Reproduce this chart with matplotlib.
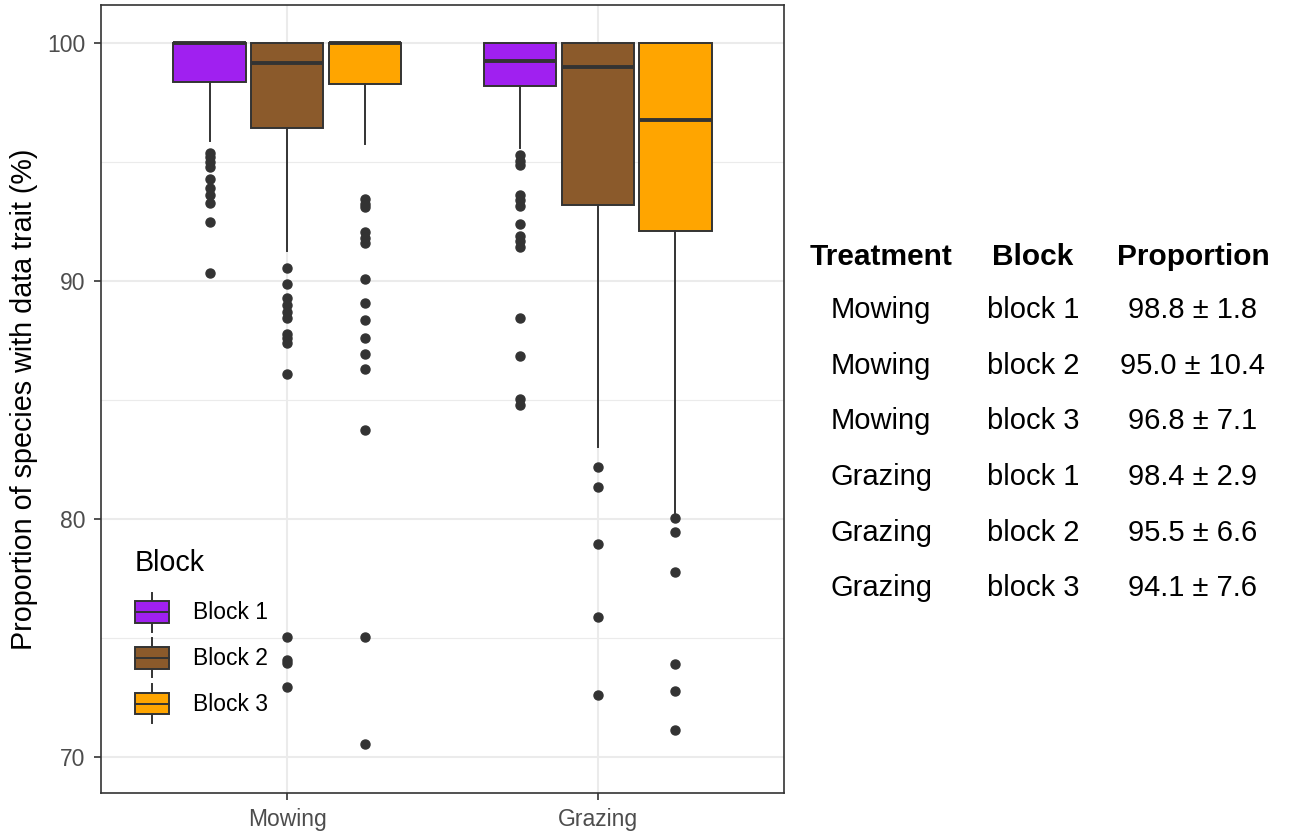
import matplotlib
matplotlib.use("Agg")
import matplotlib.pyplot as plt
from matplotlib.legend_handler import HandlerBase
from matplotlib.patches import Rectangle, Patch
from matplotlib.lines import Line2D

plt.rcParams['font.family'] = ['Liberation Sans', 'DejaVu Sans']

treatments = ['Mowing', 'Grazing']
blocks = ['Block 1', 'Block 2', 'Block 3']
block_colors = ['#A020F0', '#8B5A2B', '#FFA500']

# box statistics, order: Mowing b1-b3, Grazing b1-b3
box_q1 = [98.35, 96.45, 98.3, 98.2, 93.2, 92.1]
box_med = [100.0, 99.15, 100.0, 99.25, 99.0, 96.75]
box_q3 = [100.0, 100.0, 100.0, 100.0, 100.0, 100.0]
box_lo = [95.9, 91.25, 95.75, 95.6, 83.05, 80.25]
box_hi = [100.0, 100.0, 100.0, 100.0, 100.0, 100.0]
box_fliers = [
    [95.4, 95.2, 95.0, 94.8, 94.3, 93.9, 93.6, 93.3, 92.5, 90.35],
    [90.55, 89.9, 89.3, 89.0, 88.7, 88.45, 87.8, 87.6, 87.4, 86.1,
     75.05, 74.1, 73.95, 72.95],
    [93.45, 93.25, 93.1, 92.05, 91.8, 91.6, 90.1, 89.1, 88.35, 87.6,
     86.95, 86.3, 83.75, 75.05, 70.55],
    [95.3, 95.05, 94.9, 93.6, 93.4, 93.15, 92.4, 91.9, 91.7, 91.45,
     88.45, 86.85, 85.05, 84.8],
    [82.2, 81.35, 78.95, 75.9, 72.6],
    [80.05, 79.45, 77.8, 73.9, 72.8, 71.15],
]

# summary table
table_treatment = ['Mowing', 'Mowing', 'Mowing', 'Grazing', 'Grazing', 'Grazing']
table_block = ['block 1', 'block 2', 'block 3', 'block 1', 'block 2', 'block 3']
table_mean = [98.8, 95.0, 96.8, 98.4, 95.5, 94.1]
table_sd = [1.8, 10.4, 7.1, 2.9, 6.6, 7.6]

dark = '#333333'

fig = plt.figure(figsize=(12.91, 8.34), dpi=100)
ax = fig.add_axes([101 / 1291, 1 - 793 / 834, 683 / 1291, 788 / 834])

stats = []
positions = []
for i in range(len(box_q1)):
    stats.append({'q1': box_q1[i], 'med': box_med[i], 'q3': box_q3[i],
                  'whislo': box_lo[i], 'whishi': box_hi[i],
                  'fliers': box_fliers[i]})
    positions.append(1 + i // 3 + (i % 3 - 1) * 0.25)

res = ax.bxp(stats, positions=positions, widths=0.233, patch_artist=True,
             showcaps=False, manage_ticks=False,
             boxprops=dict(edgecolor=dark, linewidth=1.4),
             medianprops=dict(color=dark, linewidth=2.8, solid_capstyle='butt'),
             whiskerprops=dict(color=dark, linewidth=1.4),
             flierprops=dict(marker='o', markerfacecolor=dark,
                             markeredgecolor=dark, markersize=6.5))
for i, b in enumerate(res['boxes']):
    b.set_facecolor(block_colors[i % 3])

ax.set_xlim(0.4, 2.6)
ax.set_ylim(68.5, 101.6)
ax.set_xticks([1, 2])
ax.set_xticklabels(treatments)
ax.set_yticks([70, 80, 90, 100])
ax.set_yticks([75, 85, 95], minor=True)
ax.tick_params(axis='both', which='major', length=5, width=1.2, color=dark,
               labelsize=16.5, labelcolor='#4D4D4D', pad=6)
ax.tick_params(axis='y', which='minor', length=0)
ax.grid(which='major', color='#EBEBEB', linewidth=1.5)
ax.grid(which='minor', axis='y', color='#EBEBEB', linewidth=0.8)
ax.set_axisbelow(True)
for s in ax.spines.values():
    s.set_color(dark)
    s.set_linewidth(1.2)
ax.set_ylabel('Proportion of species with data trait (%)', fontsize=20.7,
              labelpad=7)


class BoxKey(HandlerBase):
    def create_artists(self, legend, orig_handle, xdescent, ydescent,
                       width, height, fontsize, trans):
        x0, y0 = -xdescent, -ydescent
        cx = x0 + width / 2
        cy = y0 + height / 2
        bh = height * 0.56
        wl = Line2D([cx, cx], [y0, y0 + height], color=dark, linewidth=1.4,
                    transform=trans)
        box = Rectangle((x0, cy - bh / 2), width, bh,
                        facecolor=orig_handle.get_facecolor(),
                        edgecolor=dark, linewidth=1.4, transform=trans)
        med = Line2D([x0, x0 + width], [cy, cy], color=dark, linewidth=1.4,
                     transform=trans)
        return [wl, box, med]


handles = [Patch(facecolor=c) for c in block_colors]
leg = ax.legend(handles, blocks, handler_map={Patch: BoxKey()},
                title='Block', title_fontsize=20.7, fontsize=16.5,
                loc='lower left', bbox_to_anchor=(135 / 1291, 1 - 723 / 834),
                bbox_transform=fig.transFigure, frameon=False,
                borderpad=0, borderaxespad=0, handlelength=1.5,
                handleheight=2.23, labelspacing=0.3, handletextpad=1.05,
                alignment='left')
leg._legend_box.sep = 11

# summary table on the right
col_x = [881 / 1291, 1033 / 1291, 1193 / 1291]
headers = ['Treatment', 'Block', 'Proportion']
for x, h in zip(col_x, headers):
    fig.text(x, 1 - 265 / 834, h, ha='center', va='baseline',
             fontsize=21.5, fontweight='bold')
for r in range(len(table_treatment)):
    yb = 1 - (318 + r * 55.7) / 834
    row = [table_treatment[r], table_block[r],
           f'{table_mean[r]:.1f} ± {table_sd[r]:.1f}']
    for x, t in zip(col_x, row):
        fig.text(x, yb, t, ha='center', va='baseline', fontsize=21)

fig.savefig('out.png', dpi=100)
